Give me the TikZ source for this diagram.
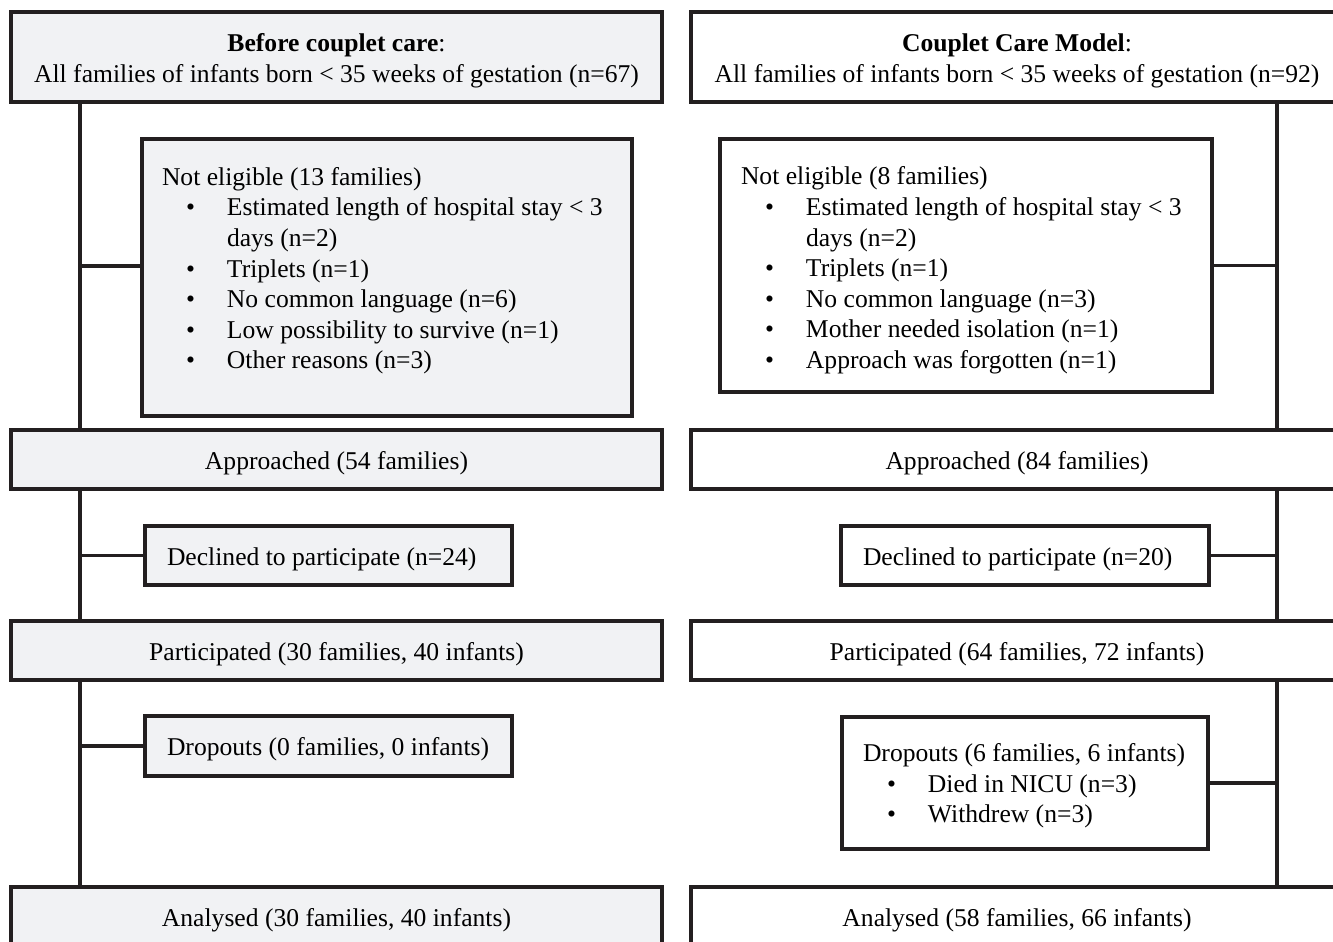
\documentclass[tikz,border=0pt]{standalone}
\usepackage{fontspec}
\setmainfont{Liberation Serif}
\usetikzlibrary{positioning}
\definecolor{boxgray}{RGB}{241,242,244}
\definecolor{inkline}{RGB}{35,31,32}
\newcommand{\bitem}[1]{\hspace*{12pt}\makebox[20.5pt][l]{\textbullet}#1}
\newcommand{\bcont}[1]{\hspace*{32.5pt}#1}

\begin{document}
\begin{tikzpicture}[
    x=0.5pt, y=-0.5pt,
    font=\fontsize{12.8}{15.3}\selectfont,
    flowbox/.style={draw=inkline, line width=1.8pt, fill=white, anchor=north west, align=center, outer sep=0pt},
    sidebox/.style={flowbox, align=left, inner xsep=11pt, text width=#1, execute at begin node={\spaceskip=0pt\relax\xspaceskip=0pt\relax}},
    oneline/.style={text height=11pt, text depth=1.5pt},
    link/.style={draw=inkline, line width=1.6pt}
]
\useasboundingbox (0,0) rectangle (1333,942);
\clip (0,0) rectangle (1333,942);
\node[flowbox, fill=boxgray, minimum width=325.5pt, minimum height=45pt, text height=27pt, text depth=1.5pt] (topA) at (11,12) {\textbf{Before couplet care}:\\All families of infants born < 35 weeks of gestation (n=67)};
\node[flowbox, minimum width=326pt, minimum height=45pt, text height=27pt, text depth=1.5pt, right=14.5pt of topA] (topB) {\textbf{Couplet Care Model}:\\All families of infants born < 35 weeks of gestation (n=92)};
\node[sidebox=225pt, fill=boxgray, inner xsep=10pt, minimum height=138.5pt] (nelA) at (142,139) {\begin{tabular}{@{}l@{}}Not eligible (13 families)\\ \bitem{Estimated length of hospital stay < 3}\\ \bcont{days (n=2)}\\ \bitem{Triplets (n=1)}\\ \bitem{No common language (n=6)}\\ \bitem{Low possibility to survive (n=1)}\\ \bitem{Other reasons (n=3)}\\[6.5pt]\end{tabular}};
\node[sidebox=225pt, inner xsep=10.5pt, minimum height=126.5pt] (nelB) at (720,139) {\begin{tabular}{@{}l@{}}\rule{0pt}{15.7pt}Not eligible (8 families)\\ \bitem{Estimated length of hospital stay < 3}\\ \bcont{days (n=2)}\\ \bitem{Triplets (n=1)}\\ \bitem{No common language (n=3)}\\ \bitem{Mother needed isolation (n=1)}\\ \bitem{Approach was forgotten (n=1)}\end{tabular}};
\node[flowbox, oneline, fill=boxgray, minimum width=325.5pt, minimum height=29.5pt] (appA) at (11,430) {Approached (54 families)};
\node[flowbox, oneline, minimum width=326pt, minimum height=29.5pt, right=14.5pt of appA] (appB) {Approached (84 families)};
\node[sidebox=161.5pt, oneline, fill=boxgray, minimum height=29.5pt] (decA) at (145,526) {Declined to participate (n=24)};
\node[sidebox=162pt, oneline, minimum height=29.5pt] (decB) at (841,526) {Declined to participate (n=20)};
\node[flowbox, oneline, fill=boxgray, minimum width=325.5pt, minimum height=29.5pt] (parA) at (11,621) {Participated (30 families, 40 infants)};
\node[flowbox, oneline, minimum width=326pt, minimum height=29.5pt, right=14.5pt of parA] (parB) {Participated (64 families, 72 infants)};
\node[sidebox=161.5pt, oneline, fill=boxgray, minimum height=30pt] (dropA) at (145,716) {Dropouts (0 families, 0 infants)};
\node[sidebox=162pt, inner xsep=10.5pt, minimum height=66pt] (dropB) at (842,717) {\begin{tabular}{@{}l@{}}\rule{0pt}{13.7pt}Dropouts (6 families, 6 infants)\\ \bitem{Died in NICU (n=3)}\\ \bitem{Withdrew (n=3)}\end{tabular}};
\node[flowbox, oneline, fill=boxgray, minimum width=325.5pt, minimum height=29.5pt] (anaA) at (11,887) {Analysed (30 families, 40 infants)};
\node[flowbox, oneline, minimum width=326pt, minimum height=29.5pt, right=14.5pt of anaA] (anaB) {Analysed (58 families, 66 infants)};
\coordinate (spineA) at (80,0);
\coordinate (spineB) at (1277,0);
\draw[link] (topA.south -| spineA) -- (appA.north -| spineA);
\draw[link] (appA.south -| spineA) -- (parA.north -| spineA);
\draw[link] (parA.south -| spineA) -- (anaA.north -| spineA);
\draw[link] (topB.south -| spineB) -- (appB.north -| spineB);
\draw[link] (appB.south -| spineB) -- (parB.north -| spineB);
\draw[link] (parB.south -| spineB) -- (anaB.north -| spineB);
\coordinate (nelAjoin) at ([yshift=5.75pt]nelA.west);
\draw[link] (nelAjoin) -- (nelAjoin -| spineA);
\draw[link] (decA.west) -- (decA.west -| spineA);
\draw[link] (dropA.west) -- (dropA.west -| spineA);
\draw[link] (nelB.east) -- (nelB.east -| spineB);
\draw[link] (decB.east) -- (decB.east -| spineB);
\draw[link] (dropB.east) -- (dropB.east -| spineB);
\end{tikzpicture}
\end{document}
